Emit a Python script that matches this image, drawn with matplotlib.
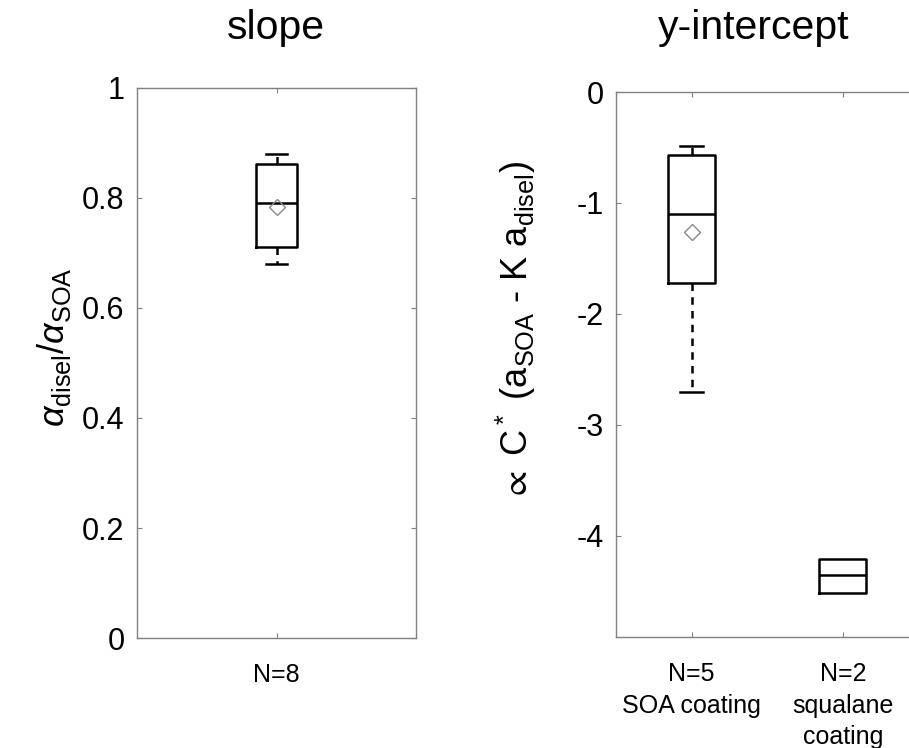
import matplotlib
matplotlib.use("Agg")
import matplotlib.pyplot as plt

plt.rcParams['font.family'] = ['Liberation Sans', 'DejaVu Sans']
plt.rcParams['mathtext.fontset'] = 'custom'
plt.rcParams['mathtext.rm'] = 'Liberation Sans'
plt.rcParams['mathtext.it'] = 'Liberation Sans:italic'
plt.rcParams['mathtext.default'] = 'regular'

# MATLAB-like deeper subscripts
try:
    import matplotlib._mathtext as _mt
    _mt.FontConstantsBase.sub1 = 0.38
    _mt.FontConstantsBase.sub2 = 0.5
except Exception:
    pass

# ---- data ----
slope_labels = ["N=8"]
slope_whislo = [0.68]
slope_q1 = [0.71]
slope_med = [0.79]
slope_q3 = [0.861]
slope_whishi = [0.88]
slope_mean = [0.784]

int_labels = ["N=5\nSOA coating", "N=2\nsqualane\ncoating"]
int_whislo = [-2.70, -4.51]
int_q1 = [-1.72, -4.51]
int_med = [-1.10, -4.35]
int_q3 = [-0.57, -4.21]
int_whishi = [-0.49, -4.21]
int_mean = [-1.26, None]

W, H = 909, 748
fig = plt.figure(figsize=(W / 100, H / 100), dpi=100)

spine_col = '#808080'
box_lw = 1.8

def style_ax(ax):
    for s in ax.spines.values():
        s.set_color(spine_col)
        s.set_linewidth(1.0)
    ax.tick_params(direction='in', length=3.5, width=0.8, color=spine_col,
                   top=True, right=True, labelsize=22, pad=9)
    ax.tick_params(axis='x', labelsize=18, pad=18)

def stats(i, lo, q1, med, q3, hi, mean, label):
    d = dict(whislo=lo[i], q1=q1[i], med=med[i], q3=q3[i], whishi=hi[i],
             fliers=[], label=label)
    if mean[i] is not None:
        d['mean'] = mean[i]
    return d

boxprops = dict(color='black', linewidth=box_lw)
medprops = dict(color='black', linewidth=box_lw)
capprops = dict(color='black', linewidth=box_lw)
meanprops = dict(marker='D', markersize=8, markerfacecolor='none',
                markeredgecolor='#8a8a8a', markeredgewidth=1.0)

# ---- left: slope ----
ax1 = fig.add_axes([137 / W, 1 - 638 / H, (416 - 137) / W, (638 - 88) / H])
s = [stats(0, slope_whislo, slope_q1, slope_med, slope_q3, slope_whishi,
           slope_mean, slope_labels[0])]
ax1.bxp(s, positions=[1], widths=0.15, showmeans=True, showfliers=False,
        boxprops=boxprops, medianprops=medprops, capprops=capprops,
        whiskerprops=dict(color='black', linewidth=box_lw, linestyle=(0, (3, 2.5))),
        meanprops=meanprops, capwidths=0.075, manage_ticks=False)
ax1.set_xlim(0.5, 1.5)
ax1.set_ylim(0, 1)
ax1.set_xticks([1])
ax1.set_xticklabels(slope_labels)
ax1.set_yticks([0, 0.2, 0.4, 0.6, 0.8, 1])
ax1.set_yticklabels(['0', '0.2', '0.4', '0.6', '0.8', '1'])
style_ax(ax1)
ax1.set_ylabel(r'$\mathit{\alpha}_{disel}/\mathit{\alpha}_{SOA}$', fontsize=26)
ax1.yaxis.set_label_coords(-0.225, 0.529)

# ---- right: y-intercept ----
ax2 = fig.add_axes([616 / W, 1 - 637 / H, (918.5 - 616) / W, (637 - 92) / H])
s0 = [stats(0, int_whislo, int_q1, int_med, int_q3, int_whishi, int_mean, int_labels[0])]
ax2.bxp(s0, positions=[1], widths=0.31, showmeans=True, showfliers=False,
        boxprops=boxprops, medianprops=medprops, capprops=capprops,
        whiskerprops=dict(color='black', linewidth=box_lw, linestyle=(0, (3, 2.5))),
        meanprops=meanprops, capwidths=0.15, manage_ticks=False)
s1 = [stats(1, int_whislo, int_q1, int_med, int_q3, int_whishi, int_mean, int_labels[1])]
ax2.bxp(s1, positions=[2], widths=0.31, showmeans=False, showfliers=False,
        showcaps=False,
        boxprops=boxprops, medianprops=medprops,
        whiskerprops=dict(color='black', linewidth=box_lw),
        manage_ticks=False)
ax2.set_xlim(0.5, 2.5)
ax2.set_ylim(-4.91, 0)
ax2.set_xticks([1, 2])
ax2.set_xticklabels(int_labels, linespacing=1.4)
ax2.set_yticks([-4, -3, -2, -1, 0])
ax2.set_yticklabels(['-4', '-3', '-2', '-1', '0'])
style_ax(ax2)
ax2.set_ylabel(r'$\propto$ C$^*$ (a$_{SOA}$ - K a$_{disel}$)', fontsize=26)
ax2.yaxis.set_label_coords(-0.258, 0.561)

# titles
fig.text(276 / W, 1 - 39 / H, 'slope', fontsize=29.5, ha='center', va='baseline')
fig.text(754 / W, 1 - 39 / H, 'y-intercept', fontsize=29.5, ha='center', va='baseline')

fig.savefig('out.png', dpi=100, facecolor='white')
